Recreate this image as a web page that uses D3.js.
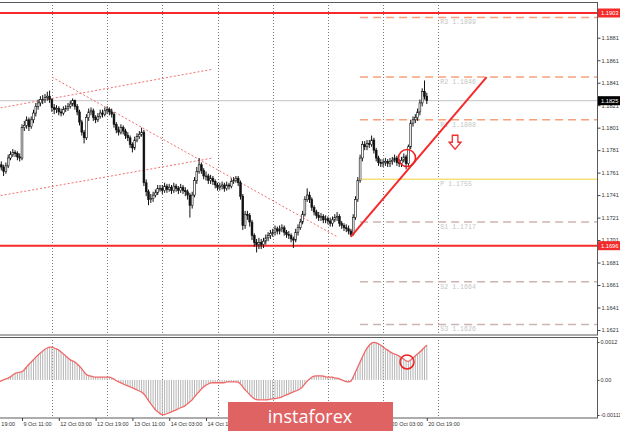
<!DOCTYPE html>
<html><head><meta charset="utf-8">
<script src="https://cdn.jsdelivr.net/npm/d3@7"></script>
<style>html,body{margin:0;padding:0;background:#fff;}svg{display:block;}</style>
</head><body>
<svg id="c" width="620" height="431"></svg>
<script>
// ---------- DATA (EURUSD H1, bar index = trading hours since 9 Oct 00:00) ----------
const closes = [
1.1765,1.1768,1.1766,1.1762,1.1767,1.1774,1.1777,1.1779,1.1778,1.1775,
1.1774,1.1801,1.1803,1.1808,1.1802,1.1808,1.1814,1.1820,1.1823,1.1826,
1.1826,1.1828,1.1829,1.1826,1.1819,1.1817,1.1818,1.1815,1.1814,1.1817,
1.1818,1.1820,1.1822,1.1825,1.1820,1.1815,1.1806,1.1797,1.1792,1.1810,
1.1815,1.1816,1.1810,1.1808,1.1811,1.1814,1.1813,1.1816,1.1817,1.1815,
1.1813,1.1804,1.1799,1.1797,1.1801,1.1798,1.1794,1.1792,1.1786,1.1783,
1.1790,1.1793,1.1795,1.1797,1.1752,1.1744,1.1737,1.1738,1.1741,1.1743,
1.1747,1.1747,1.1745,1.1749,1.1746,1.1748,1.1745,1.1749,1.1747,1.1745,
1.1748,1.1745,1.1744,1.1741,1.1732,1.1741,1.1754,1.1762,1.1768,1.1763,
1.1758,1.1758,1.1754,1.1756,1.1753,1.1750,1.1748,1.1749,1.1750,1.1747,
1.1750,1.1749,1.1753,1.1754,1.1756,1.1752,1.1740,1.1714,1.1724,1.1723,
1.1717,1.1705,1.1699,1.1697,1.1699,1.1697,1.1700,1.1703,1.1705,1.1707,
1.1708,1.1711,1.1709,1.1711,1.1712,1.1708,1.1706,1.1705,1.1702,1.1701,
1.1708,1.1712,1.1717,1.1724,1.1737,1.1741,1.1737,1.1730,1.1726,1.1723,
1.1721,1.1722,1.1719,1.1720,1.1718,1.1716,1.1719,1.1721,1.1722,1.1716,
1.1714,1.1712,1.1711,1.1709,1.1706,1.1721,1.1737,1.1754,1.1774,1.1786,
1.1784,1.1787,1.1786,1.1790,1.1781,1.1774,1.1770,1.1769,1.1770,1.1771,
1.1769,1.1771,1.1772,1.1774,1.1770,1.1769,1.1772,1.1775,1.1769,1.1784,
1.1805,1.1808,1.1810,1.1815,1.1823,1.1833,1.1829,1.1825];
const highs = [
1.1768,1.1771,1.1771,1.1768,1.1770,1.1777,1.1780,1.1782,1.1781,1.1780,
1.1778,1.1804,1.1807,1.1811,1.1810,1.1811,1.1817,1.1823,1.1826,1.1829,
1.1830,1.1831,1.1833,1.1834,1.1827,1.1822,1.1821,1.1820,1.1818,1.1820,
1.1821,1.1823,1.1825,1.1827,1.1826,1.1822,1.1817,1.1808,1.1799,1.1813,
1.1818,1.1819,1.1818,1.1812,1.1814,1.1817,1.1817,1.1819,1.1820,1.1819,
1.1818,1.1815,1.1806,1.1802,1.1804,1.1803,1.1800,1.1797,1.1794,1.1788,
1.1793,1.1796,1.1798,1.1801,1.1799,1.1755,1.1746,1.1742,1.1744,1.1746,
1.1750,1.1750,1.1750,1.1752,1.1751,1.1751,1.1750,1.1752,1.1751,1.1749,
1.1751,1.1750,1.1748,1.1746,1.1743,1.1744,1.1757,1.1766,1.1774,1.1770,
1.1765,1.1762,1.1760,1.1759,1.1758,1.1755,1.1752,1.1752,1.1753,1.1752,
1.1753,1.1752,1.1756,1.1757,1.1758,1.1758,1.1754,1.1742,1.1727,1.1727,
1.1725,1.1719,1.1707,1.1702,1.1703,1.1702,1.1703,1.1706,1.1708,1.1710,
1.1711,1.1714,1.1713,1.1714,1.1715,1.1714,1.1710,1.1709,1.1707,1.1704,
1.1711,1.1715,1.1720,1.1727,1.1740,1.1747,1.1744,1.1739,1.1732,1.1728,
1.1726,1.1725,1.1724,1.1723,1.1722,1.1721,1.1722,1.1724,1.1726,1.1724,
1.1718,1.1716,1.1715,1.1714,1.1711,1.1724,1.1740,1.1757,1.1777,1.1789,
1.1789,1.1790,1.1790,1.1794,1.1792,1.1783,1.1776,1.1773,1.1773,1.1774,
1.1773,1.1774,1.1775,1.1777,1.1776,1.1773,1.1775,1.1778,1.1777,1.1786,
1.1808,1.1811,1.1813,1.1818,1.1826,1.1836,1.1843,1.1832];
const lows = [
1.1759,1.1763,1.1763,1.1758,1.1760,1.1765,1.1772,1.1775,1.1775,1.1772,
1.1771,1.1772,1.1798,1.1800,1.1798,1.1800,1.1805,1.1811,1.1817,1.1820,
1.1822,1.1823,1.1825,1.1823,1.1815,1.1813,1.1814,1.1812,1.1811,1.1812,
1.1815,1.1816,1.1818,1.1820,1.1817,1.1812,1.1803,1.1794,1.1787,1.1790,
1.1807,1.1812,1.1807,1.1805,1.1806,1.1809,1.1810,1.1811,1.1813,1.1812,
1.1810,1.1801,1.1796,1.1794,1.1795,1.1795,1.1791,1.1789,1.1783,1.1779,
1.1781,1.1788,1.1791,1.1793,1.1749,1.1740,1.1732,1.1734,1.1735,1.1739,
1.1741,1.1744,1.1742,1.1743,1.1743,1.1744,1.1742,1.1743,1.1744,1.1742,
1.1743,1.1742,1.1740,1.1737,1.1721,1.1729,1.1739,1.1751,1.1760,1.1760,
1.1755,1.1754,1.1751,1.1751,1.1750,1.1747,1.1745,1.1745,1.1746,1.1744,
1.1745,1.1746,1.1747,1.1751,1.1752,1.1749,1.1737,1.1710,1.1711,1.1719,
1.1713,1.1701,1.1695,1.1690,1.1693,1.1693,1.1694,1.1697,1.1700,1.1702,
1.1704,1.1705,1.1706,1.1706,1.1708,1.1705,1.1703,1.1702,1.1699,1.1694,
1.1699,1.1705,1.1710,1.1715,1.1722,1.1735,1.1734,1.1727,1.1723,1.1720,
1.1718,1.1718,1.1716,1.1716,1.1715,1.1713,1.1713,1.1717,1.1718,1.1713,
1.1711,1.1709,1.1708,1.1706,1.1704,1.1705,1.1719,1.1735,1.1752,1.1771,
1.1781,1.1781,1.1783,1.1784,1.1778,1.1771,1.1767,1.1766,1.1766,1.1767,
1.1766,1.1766,1.1768,1.1770,1.1767,1.1766,1.1766,1.1770,1.1764,1.1767,
1.1782,1.1802,1.1805,1.1807,1.1812,1.1820,1.1826,1.1822];
const firstOpen = 1.1762;
const macd = [
-0.00009,-0.00006,-0.00003,0,0.00003,0.00006,0.00009,0.00016,0.00022,0.00022,
0.00025,0.00025,0.00032,0.00041,0.00050,0.00057,0.00063,0.00073,0.00079,0.00085,
0.00091,0.00098,0.00101,0.00104,0.00104,0.00101,0.00098,0.00095,0.00088,0.00082,
0.00076,0.00069,0.00063,0.00060,0.00057,0.00050,0.00044,0.00035,0.00025,0.00016,
0.00013,0.00013,0.00009,0.00009,0.00009,0.00009,0.00009,0.00009,0.00009,0.00009,
0.00006,0.00003,-0.00003,-0.00006,-0.00009,-0.00013,-0.00016,-0.00019,-0.00022,-0.00025,
-0.00028,-0.00032,-0.00035,-0.00038,-0.00044,-0.00054,-0.00066,-0.00076,-0.00085,-0.00095,
-0.00101,-0.00107,-0.00110,-0.00110,-0.00107,-0.00104,-0.00101,-0.00098,-0.00095,-0.00091,
-0.00088,-0.00085,-0.00082,-0.00076,-0.00069,-0.00063,-0.00054,-0.00044,-0.00038,-0.00028,
-0.00022,-0.00016,-0.00013,-0.00009,-0.00009,-0.00009,-0.00009,-0.00009,-0.00009,-0.00009,
-0.00006,-0.00006,-0.00006,-0.00006,-0.00006,-0.00006,-0.00013,-0.00022,-0.00032,-0.00038,
-0.00047,-0.00054,-0.00060,-0.00063,-0.00063,-0.00063,-0.00063,-0.00063,-0.00063,-0.00060,
-0.00060,-0.00060,-0.00057,-0.00057,-0.00054,-0.00050,-0.00047,-0.00044,-0.00041,-0.00038,
-0.00035,-0.00032,-0.00028,-0.00022,-0.00013,-0.00003,0.00003,0.00009,0.00013,0.00013,
0.00013,0.00013,0.00013,0.00009,0.00009,0.00009,0.00009,0.00006,0.00006,0.00003,
0,-0.00003,-0.00006,-0.00006,-0.00006,0.00009,0.00025,0.00041,0.00057,0.00073,
0.00088,0.00101,0.00110,0.00117,0.00120,0.00117,0.00114,0.00110,0.00104,0.00098,
0.00095,0.00088,0.00085,0.00082,0.00079,0.00076,0.00069,0.00066,0.00060,0.00057,
0.00063,0.00069,0.00076,0.00082,0.00088,0.00095,0.00104,0.00110];

const priceTicks = [1.1621,1.1641,1.1661,1.1681,1.1701,1.1721,1.1741,1.1761,1.1781,1.1801,1.1821,1.1841,1.1861,1.1881];
const macdTicks = [0.0012, 0, -0.00111];
const macdTickLabels = ["0.0012","0.00","-0.00111"];
const dayStarts = [24,48,72,96,120,144,168,192];
const timeTicks = [-5,11,27,43,59,75,91,107,123,139,155,171,187];
const timeLabels = ["8 Oct 19:00","9 Oct 11:00","12 Oct 03:00","12 Oct 19:00","13 Oct 11:00","14 Oct 03:00","14 Oct 19:00","15 Oct 11:00","16 Oct 03:00","16 Oct 19:00","19 Oct 11:00","20 Oct 03:00","20 Oct 19:00"];
const pivotNames = ["R3","R2","R1","P","S1","S2","S3"];
const pivotValues = [1.1899,1.1846,1.1808,1.1755,1.1717,1.1664,1.1626];
const pivotStart = 158;
const keyLevels = [1.1903, 1.1696];
const lastPrice = 1.1825;
const dottedLines = [
  [[0,1.1818],[94,1.1853]],
  [[0,1.1740],[94,1.1774]],
  [[24,1.1846],[148,1.1704]]
];
const trendLine = [[154,1.1704],[213,1.1846]];
const markCircle = {t:178.4, price:1.1774, macd:0.00057};
const arrowAt = {t:199.3, price:1.1788};
const logoText = "instaforex";

// ---------- LAYOUT ----------
const svg = d3.select("#c");
const P = {left:0, right:597, top:2, bottom:335};
const M = {top:337, bottom:418};
const xs = d3.scaleLinear().domain([0,192]).range([-3.3, 438.3]);
const ys = d3.scaleLinear().domain([1.1621,1.1903]).range([330,13]);
const ms = d3.scaleLinear().domain([-0.00111,0.0012]).range([415,342]);

svg.append("rect").attr("width",620).attr("height",431).attr("fill","#fff");
const defs = svg.append("defs");
defs.append("clipPath").attr("id","cm").append("rect").attr("x",P.left).attr("y",P.top).attr("width",P.right-P.left).attr("height",P.bottom-P.top);
defs.append("clipPath").attr("id","cd").append("rect").attr("x",P.left).attr("y",M.top).attr("width",P.right-P.left).attr("height",M.bottom-M.top);

const main = svg.append("g").attr("clip-path","url(#cm)");
const sub = svg.append("g").attr("clip-path","url(#cd)");

// grid (day separators)
[main, sub].forEach((g,k)=>{
  g.selectAll("line.grid").data(dayStarts).join("line").attr("class","grid")
   .attr("x1",d=>Math.round(xs(d))+0.5).attr("x2",d=>Math.round(xs(d))+0.5)
   .attr("y1",k?M.top:P.top).attr("y2",k?M.bottom:P.bottom)
   .attr("stroke","#7a7a7a").attr("stroke-width",1).attr("stroke-dasharray","1,2");
});

// last price line
main.append("line").attr("x1",0).attr("x2",P.right).attr("y1",ys(lastPrice)).attr("y2",ys(lastPrice))
  .attr("stroke","#cfcfcf").attr("stroke-width",1.2);

// pivot lines
main.selectAll("line.pv").data(pivotValues).join("line").attr("class","pv")
  .attr("x1",xs(pivotStart)).attr("x2",P.right)
  .attr("y1",d=>ys(d)).attr("y2",d=>ys(d))
  .attr("stroke",(d,i)=>i<3?"#f6a17c":(i==3?"#f7e07a":"#cfb2b2"))
  .attr("stroke-width",1.5)
  .attr("stroke-dasharray",(d,i)=>i==3?null:"8,5");
main.selectAll("text.pv").data(pivotValues).join("text").attr("class","pv")
  .attr("x",xs(192)+2).attr("y",d=>ys(d)+7)
  .attr("font-family","Liberation Mono, monospace").attr("font-size",6.6)
  .attr("fill","#c4c4c4")
  .text((d,i)=>pivotNames[i]+(pivotNames[i].length<2?"  ":" ")+" "+d.toFixed(4));

// key red levels
main.selectAll("line.key").data(keyLevels).join("line").attr("class","key")
  .attr("x1",0).attr("x2",P.right).attr("y1",d=>ys(d)).attr("y2",d=>ys(d))
  .attr("stroke","#f52a2a").attr("stroke-width",2);

// dotted trend lines
const lineGen = d3.line().x(d=>xs(d[0])).y(d=>ys(d[1]));
main.selectAll("path.dot").data(dottedLines).join("path").attr("class","dot")
  .attr("d",lineGen).attr("fill","none").attr("stroke","#f07070").attr("stroke-width",1).attr("stroke-dasharray","2,2");

// candles
const bars = closes.map((c,i)=>({t:i, o: i? closes[i-1] : firstOpen, h:highs[i], l:lows[i], c}));
const cg = main.append("g");
cg.selectAll("line").data(bars).join("line")
  .attr("x1",d=>xs(d.t)).attr("x2",d=>xs(d.t)).attr("y1",d=>ys(d.h)).attr("y2",d=>ys(d.l))
  .attr("stroke","#111").attr("stroke-width",1);
cg.selectAll("rect").data(bars).join("rect")
  .attr("x",d=>xs(d.t)-0.9).attr("width",1.8)
  .attr("y",d=>ys(Math.max(d.o,d.c))).attr("height",d=>Math.max(0.8,Math.abs(ys(d.o)-ys(d.c))))
  .attr("fill",d=>d.c>=d.o?"#fff":"#111").attr("stroke","#111").attr("stroke-width",0.6);

// uptrend line
main.append("path").datum(trendLine).attr("d",lineGen).attr("fill","none").attr("stroke","#f52a2a").attr("stroke-width",2);

// circle
main.append("circle").attr("cx",xs(markCircle.t)).attr("cy",ys(markCircle.price)).attr("r",8.5)
  .attr("fill","none").attr("stroke","#f02020").attr("stroke-width",1.6);

// arrow
const ax = xs(arrowAt.t), ay = ys(arrowAt.price);
main.append("path").attr("transform",`translate(${ax},${ay})`)
  .attr("d","M-2.8,-7 L2.8,-7 L2.8,0 L6,0 L0,7 L-6,0 L-2.8,0 Z")
  .attr("fill","#fff").attr("stroke","#f03030").attr("stroke-width",1.3);

// MACD histogram + signal
sub.selectAll("line.h").data(macd).join("line").attr("class","h")
  .attr("x1",(d,i)=>xs(i)).attr("x2",(d,i)=>xs(i)).attr("y1",ms(0)).attr("y2",d=>ms(d))
  .attr("stroke","#b4b4b4").attr("stroke-width",1);
sub.append("path").datum(macd)
  .attr("d",d3.line().x((d,i)=>xs(i)).y(d=>ms(d)).curve(d3.curveBasis))
  .attr("fill","none").attr("stroke","#f06868").attr("stroke-width",1.3);
sub.append("circle").attr("cx",xs(markCircle.t)).attr("cy",ms(markCircle.macd)).attr("r",7)
  .attr("fill","none").attr("stroke","#f02020").attr("stroke-width",1.5);

// frames
svg.append("rect").attr("x",-1).attr("y",P.top+0.5).attr("width",P.right+1.5).attr("height",P.bottom-P.top-0.5)
  .attr("fill","none").attr("stroke","#5a5a5a").attr("stroke-width",1);
svg.append("rect").attr("x",-1).attr("y",M.top+0.5).attr("width",P.right+1.5).attr("height",M.bottom-M.top-0.5)
  .attr("fill","none").attr("stroke","#5a5a5a").attr("stroke-width",1);

// right price axis
const fontAx = "Liberation Sans, Arial, sans-serif";
const ay1 = svg.append("g").attr("transform",`translate(${P.right+0.5},0)`)
  .call(d3.axisRight(ys).tickValues(priceTicks).tickSize(3).tickPadding(1).tickFormat(d3.format(".4f")));
ay1.select(".domain").remove();
ay1.selectAll("line").attr("stroke","#444");
ay1.selectAll("text").attr("font-family",fontAx).attr("font-size",5.7).attr("fill","#333");

// labelled boxes on price axis
const boxes = [{v:keyLevels[0],bg:"#f52a2a"},{v:keyLevels[1],bg:"#f52a2a"},{v:lastPrice,bg:"#000"}];
const bg = svg.append("g");
bg.selectAll("rect").data(boxes).join("rect")
  .attr("x",P.right+1).attr("y",d=>ys(d.v)-4.5).attr("width",22).attr("height",9).attr("fill",d=>d.bg);
bg.selectAll("text").data(boxes).join("text")
  .attr("x",P.right+4).attr("y",d=>ys(d.v)+2).attr("font-family",fontAx).attr("font-size",5.7)
  .attr("fill","#fff").text(d=>d.v.toFixed(4));

// MACD axis
const ay2 = svg.append("g").attr("transform",`translate(${P.right+0.5},0)`)
  .call(d3.axisRight(ms).tickValues(macdTicks).tickSize(2).tickPadding(1).tickFormat((d,i)=>macdTickLabels[i]));
ay2.select(".domain").remove();
ay2.selectAll("line").attr("stroke","#444");
ay2.selectAll("text").attr("font-family",fontAx).attr("font-size",5.5).attr("fill","#333");

// time axis
const axT = svg.append("g").attr("transform",`translate(0,${M.bottom})`)
  .call(d3.axisBottom(xs).tickValues(timeTicks).tickSize(3).tickPadding(1).tickFormat((d,i)=>timeLabels[i]));
axT.select(".domain").remove();
axT.selectAll("line").attr("stroke","#444");
axT.selectAll("text").attr("text-anchor","start").attr("dx",1).attr("font-family",fontAx).attr("font-size",5.5).attr("fill","#333");

// logo
svg.append("rect").attr("x",228).attr("y",402).attr("width",165).attr("height",29).attr("fill","#e06364");
svg.append("text").attr("x",310).attr("y",423).attr("text-anchor","middle")
  .attr("font-family","Open Sans, sans-serif").attr("font-size",18).attr("fill","#fff").text(logoText);
</script>
</body></html>
